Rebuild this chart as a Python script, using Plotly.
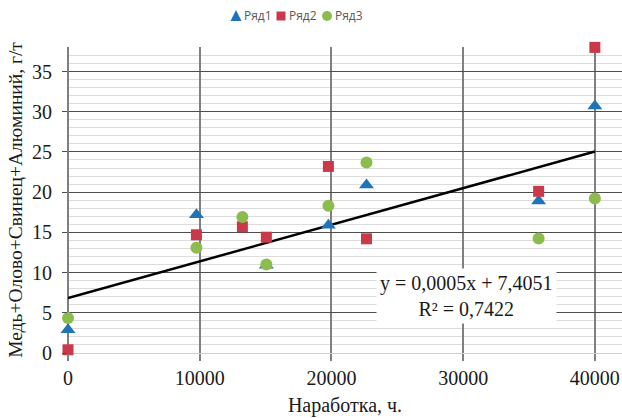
import plotly.graph_objects as go

# Data
x_vals = [0, 9750, 13240, 15060, 19770, 22660, 35730, 40000]
series1_x = [0, 9750, 15060, 19770, 22660, 35730, 40000]
series1_y = [2.9, 17.2, 10.9, 15.9, 20.9, 18.9, 30.7]
series2_y = [0.4, 14.7, 15.7, 14.4, 23.2, 14.2, 20.1, 38.0]
series3_y = [4.35, 13.1, 16.9, 11.0, 18.3, 23.7, 14.25, 19.2]
trend_x = [0, 40000]
trend_y = [6.84, 25.05]
series_names = ["Ряд1", "Ряд2", "Ряд3"]
eq_text = "y = 0,0005x + 7,4051<br>R² = 0,7422"
x_title = "Наработка, ч."
y_title = "Медь+Олово+Свинец+Алюминий, г/т"

blue = "#1f74b8"
red = "#c9394a"
green = "#8cbb4e"

W, H = 622, 418
ML, MR, MT, MB = 68, 0, 47, 65
PW, PH = W - ML - MR, H - MT - MB


def px_x(px):
    return (px - ML) / PW


def px_y(py):
    return (H - MB - py) / PH


fig = go.Figure()
fig.add_trace(go.Scatter(x=trend_x, y=trend_y, mode="lines",
                         line=dict(color="black", width=2.5),
                         showlegend=False, hoverinfo="skip", cliponaxis=False))
fig.add_trace(go.Scatter(x=series1_x, y=series1_y, mode="markers", name=series_names[0],
                         marker=dict(symbol="triangle-up", size=13, color=blue),
                         cliponaxis=False, showlegend=False))
fig.add_trace(go.Scatter(x=x_vals, y=series2_y, mode="markers", name=series_names[1],
                         marker=dict(symbol="square", size=11, color=red),
                         cliponaxis=False, showlegend=False))
fig.add_trace(go.Scatter(x=x_vals, y=series3_y, mode="markers", name=series_names[2],
                         marker=dict(symbol="circle", size=12, color=green),
                         cliponaxis=False, showlegend=False))

fig.add_annotation(x=30280, y=7.1, xref="x", yref="y", text=eq_text,
                   showarrow=False, bgcolor="white", borderpad=3,
                   font=dict(family="Liberation Serif", size=20, color="#1a1a1a"),
                   align="center")

# Legend (drawn as shapes + text to match the compact Excel legend)
leg_y = px_y(16)
leg_items = [(236, blue, "tri"), (281, red, "sq"), (327, green, "circ")]
for (cx, col, kind), name in zip(leg_items, series_names):
    if kind == "tri":
        fig.add_shape(type="path", xref="paper", yref="paper",
                      xsizemode="pixel", ysizemode="pixel",
                      xanchor=px_x(cx), yanchor=leg_y,
                      path="M -5.5 -5 L 5.5 -5 L 0 6 Z",
                      fillcolor=col, line=dict(width=0))
    elif kind == "sq":
        fig.add_shape(type="rect", xref="paper", yref="paper",
                      xsizemode="pixel", ysizemode="pixel",
                      xanchor=px_x(cx), yanchor=leg_y,
                      x0=-4.5, x1=4.5, y0=-4.5, y1=4.5,
                      fillcolor=col, line=dict(width=0))
    else:
        fig.add_shape(type="circle", xref="paper", yref="paper",
                      xsizemode="pixel", ysizemode="pixel",
                      xanchor=px_x(cx), yanchor=leg_y,
                      x0=-5, x1=5, y0=-5, y1=5,
                      fillcolor=col, line=dict(width=0))
    fig.add_annotation(x=px_x(cx + 6), y=leg_y, xref="paper", yref="paper",
                       text=name, showarrow=False, xanchor="left", yanchor="middle",
                       font=dict(family="Open Sans", size=12, color="#595959"))

serif = "Liberation Serif"
fig.update_layout(
    width=W, height=H,
    margin=dict(l=ML, r=MR, t=MT, b=MB),
    paper_bgcolor="white", plot_bgcolor="white",
    showlegend=False,
    xaxis=dict(range=[0, 42060], dtick=10000, tick0=0, tickformat="d",
               showgrid=True, gridcolor="#7f7f7f", gridwidth=1.5,
               zeroline=True, zerolinecolor="#7f7f7f", zerolinewidth=1.5,
               ticks="outside", ticklen=7, tickcolor="#7f7f7f", tickwidth=1.5,
               tickfont=dict(family=serif, size=20, color="#1a1a1a"),
               title=dict(text=x_title, font=dict(family=serif, size=20, color="#1a1a1a"),
                          standoff=9),
               automargin=False, showline=False),
    yaxis=dict(range=[0, 38.05], dtick=5, tick0=0,
               showgrid=True, gridcolor="#4d4d4d", gridwidth=1.3,
               minor=dict(dtick=1, showgrid=True, gridcolor="#dcdcdc", gridwidth=1),
               zeroline=True, zerolinecolor="#d0d0d0", zerolinewidth=1,
               ticks="outside", ticklen=5, tickcolor="#4d4d4d",
               ticklabelstandoff=6,
               tickfont=dict(family=serif, size=20, color="#1a1a1a"),
               title=dict(text=y_title, font=dict(family=serif, size=19.5, color="#1a1a1a"),
                          standoff=4),
               automargin=False, showline=False),
)

fig.write_html("out.html", config={"displayModeBar": False},
               post_script="document.body.style.margin='0';")
